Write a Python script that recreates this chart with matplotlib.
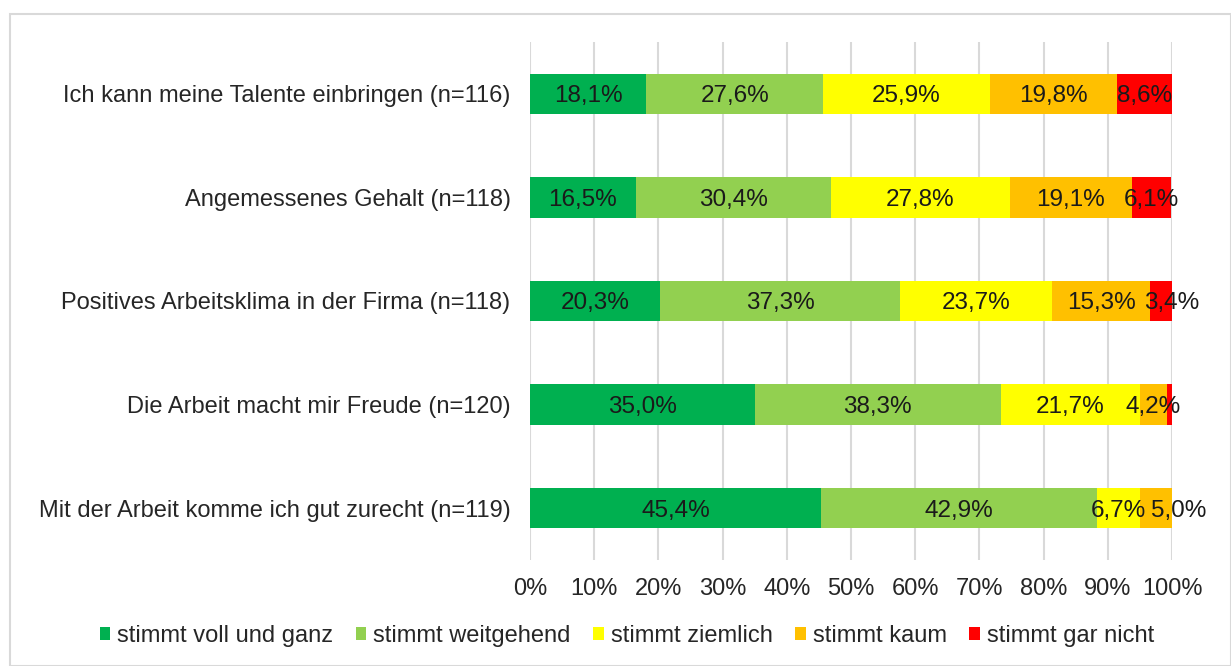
import numpy as np
import matplotlib.pyplot as plt
from matplotlib.patches import Rectangle

plt.rcParams['font.family'] = ['Liberation Sans', 'DejaVu Sans']

categories = ["Ich kann meine Talente einbringen (n=116)",
              "Angemessenes Gehalt (n=118)",
              "Positives Arbeitsklima in der Firma (n=118)",
              "Die Arbeit macht mir Freude (n=120)",
              "Mit der Arbeit komme ich gut zurecht (n=119)"]
series = ["stimmt voll und ganz", "stimmt weitgehend", "stimmt ziemlich",
          "stimmt kaum", "stimmt gar nicht"]
voll = [18.1, 16.5, 20.3, 35.0, 45.4]
weit = [27.6, 30.4, 37.3, 38.3, 42.9]
ziem = [25.9, 27.8, 23.7, 21.7, 6.7]
kaum = [19.8, 19.1, 15.3, 4.2, 5.0]
gar = [8.6, 6.1, 3.4, 0.8, 0.0]
colors = ["#00B050", "#92D050", "#FFFF00", "#FFC000", "#FF0000"]

data = [voll, weit, ziem, kaum, gar]

# label nudges (series index, row index) -> dx in %, like Excel moves crowded labels
nudge = {(4, 2): 1.7, (3, 4): 3.6}

fig = plt.figure(figsize=(12.31, 6.66), dpi=100)
fig.patches.append(Rectangle((10/1231, 0), 1 - 10/1231, 1 - 14/666,
                             transform=fig.transFigure, fill=False,
                             edgecolor="#D9D9D9", linewidth=1.5))
ax = fig.add_axes([530/1231, 1 - 560/666, 642/1231, 518/666])

y = np.arange(len(categories))[::-1]
left = np.zeros(len(categories))
for si, (vals, name, c) in enumerate(zip(data, series, colors)):
    vals = np.array(vals)
    ax.barh(y, vals, left=left, height=0.39, color=c, label=name, zorder=3)
    for ri, (yi, l, v) in enumerate(zip(y, left, vals)):
        if v >= 1:
            ax.text(l + v / 2 + nudge.get((si, ri), 0), yi,
                    f"{v:.1f}%".replace(".", ","),
                    ha="center", va="center_baseline", fontsize=17.5,
                    color="#1a1a1a", zorder=4)
    left += vals

ax.set_xlim(0, 100)
ax.set_ylim(-0.5, 4.5)
ax.set_xticks(np.arange(0, 101, 10))
ax.set_xticklabels([f"{t}%" for t in range(0, 101, 10)], fontsize=17, color="#262626")
ax.set_yticks(y)
ax.set_yticklabels(categories, fontsize=17, color="#262626")
ax.tick_params(axis="x", length=0, pad=13)
ax.tick_params(axis="y", length=0, pad=14)
ax.grid(axis="x", color="#D9D9D9", linewidth=1.5, zorder=0)
for s in ax.spines.values():
    s.set_visible(False)

fig.legend(*ax.get_legend_handles_labels(), loc="center",
           bbox_to_anchor=(627/1231, 1 - 636/666), ncol=5, frameon=False,
           fontsize=17, handlelength=0.45, handleheight=0.5, handletextpad=0.3,
           columnspacing=0.95, labelcolor="#262626")

fig.savefig("out.png", dpi=100)
